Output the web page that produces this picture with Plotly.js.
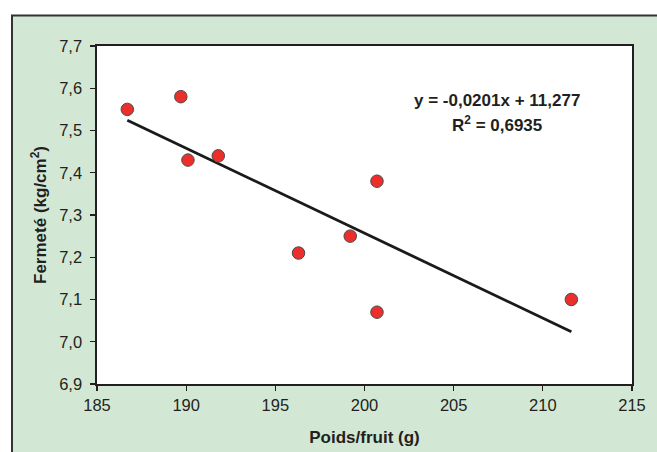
<!DOCTYPE html>
<html>
<head>
<meta charset="utf-8">
<script src="https://cdn.plot.ly/plotly-3.0.1.min.js"></script>
<style>html,body{margin:0;padding:0;background:#fff;}#chart{width:657px;height:452px;}</style>
</head>
<body>
<div id="chart"></div>
<script>
// Data
const poids = [186.7, 189.7, 190.1, 191.8, 196.3, 199.2, 200.7, 200.7, 211.6];
const fermete = [7.55, 7.58, 7.43, 7.44, 7.21, 7.25, 7.38, 7.07, 7.10];
// Regression shown on the chart
const slope = -0.0201;
const intercept = 11.277;
const equationText = "y = -0,0201x + 11,277";
const r2Text = "R<sup>2</sup> = 0,6935";
const xTitle = "Poids/fruit (g)";
const yTitle = "Fermeté (kg/cm<sup>2</sup>)";

const xMin = Math.min(...poids), xMax = Math.max(...poids);
const trendX = [xMin, xMax];
const trendY = trendX.map(x => slope * x + intercept);

const font = "Liberation Sans, Arial, Helvetica, sans-serif";
const ink = '#231f20';

const traces = [
  {
    x: trendX, y: trendY, type: 'scatter', mode: 'lines',
    line: {color: '#1a1a1a', width: 2.8}, hoverinfo: 'skip', showlegend: false
  },
  {
    x: poids, y: fermete, type: 'scatter', mode: 'markers',
    marker: {color: '#ec2f2a', size: 12.5, line: {color: '#4a4a4a', width: 1}},
    showlegend: false
  }
];

const layout = {
  width: 657, height: 452,
  margin: {l: 97, r: 25, t: 46, b: 68},
  paper_bgcolor: '#ffffff',
  plot_bgcolor: 'rgba(0,0,0,0)',
  separators: ', ',
  font: {family: font, size: 16.5, color: ink},
  showlegend: false,
  xaxis: {
    range: [185, 215], dtick: 5, tick0: 185,
    ticks: 'outside', ticklen: 5, tickwidth: 1.2, tickcolor: ink,
    showline: true, linecolor: ink, linewidth: 1.6, mirror: true,
    showgrid: false, zeroline: false,
    ticklabelstandoff: 1,
    tickfont: {family: font, size: 16.5, color: ink},
    title: {text: '<b>' + xTitle + '</b>', font: {family: font, size: 17, color: ink}, standoff: 17}
  },
  yaxis: {
    range: [6.9, 7.7], dtick: 0.1, tick0: 6.9, tickformat: '.1f',
    ticks: 'outside', ticklen: 5, tickwidth: 1.2, tickcolor: ink,
    showline: true, linecolor: ink, linewidth: 1.6, mirror: true,
    showgrid: false, zeroline: false,
    ticklabelstandoff: 5,
    tickfont: {family: font, size: 16.5, color: ink},
    title: {text: '<b>' + yTitle + '</b>', font: {family: font, size: 17, color: ink}, standoff: 8}
  },
  shapes: [
    {type: 'rect', xref: 'paper', yref: 'paper', layer: 'below',
     x0: -0.1589, x1: 1.3, y0: -0.4, y1: 1.0904,
     fillcolor: '#d3e8d4', line: {color: '#333333', width: 2}},
    {type: 'rect', xref: 'paper', yref: 'paper', layer: 'below',
     x0: 0, x1: 1, y0: 0, y1: 1,
     fillcolor: '#ffffff', line: {width: 0}}
  ],
  annotations: [
    {xref: 'paper', yref: 'paper', x: 0.748, y: 0.838, xanchor: 'center', yanchor: 'middle',
     text: '<b>' + equationText + '</b>', showarrow: false,
     font: {family: font, size: 17, color: ink}},
    {xref: 'paper', yref: 'paper', x: 0.748, y: 0.768, xanchor: 'center', yanchor: 'middle',
     text: '<b>' + r2Text + '</b>', showarrow: false,
     font: {family: font, size: 17, color: ink}}
  ]
};

Plotly.newPlot('chart', traces, layout, {displayModeBar: false, staticPlot: true});
</script>
</body>
</html>
